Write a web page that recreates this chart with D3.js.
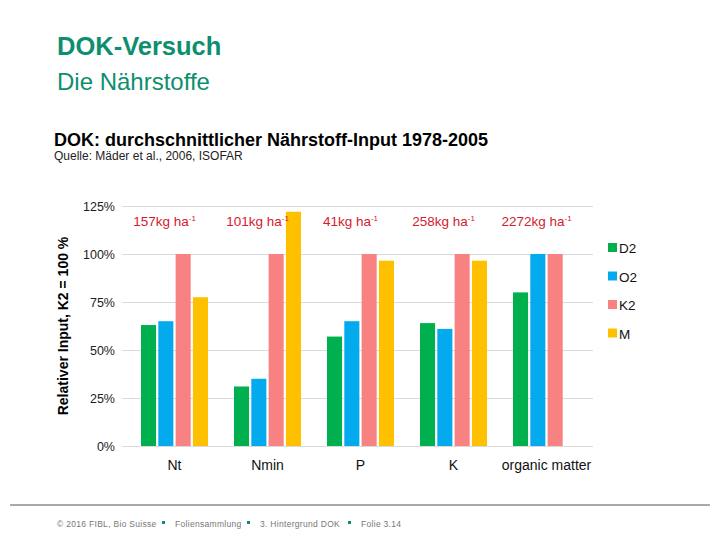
<!DOCTYPE html>
<html>
<head>
<meta charset="utf-8">
<script src="https://cdn.jsdelivr.net/npm/d3@7"></script>
<style>
  body { margin: 0; background: #fff; }
  svg { font-family: "Liberation Sans", Arial, sans-serif; }
</style>
</head>
<body>
<div id="graph"></div>
<script>
const categories = ["Nt", "Nmin", "P", "K", "organic matter"];
const seriesNames = ["D2", "O2", "K2", "M"];
const d2Values = [63, 31, 57, 64, 80];
const o2Values = [65, 35, 65, 61, 100];
const k2Values = [100, 100, 100, 100, 100];
const mValues = [77.5, 122, 96.5, 96.5, null];
const amountLabels = ["157kg ha", "101kg ha", "41kg ha", "258kg ha", "2272kg ha"];
const yTicks = [0, 25, 50, 75, 100, 125];
const colors = ["#00b04f", "#03aaee", "#f88282", "#ffc000"];

const width = 720, height = 540;
const plot = {left: 122, right: 593, top: 206, bottom: 446};

const svg = d3.select("#graph").append("svg")
    .attr("width", width)
    .attr("height", height);

// slide header
svg.append("text")
    .attr("x", 57).attr("y", 55)
    .attr("font-size", 25.5).attr("font-weight", "bold")
    .attr("fill", "#0d8f6f")
    .text("DOK-Versuch");
svg.append("text")
    .attr("x", 57).attr("y", 90)
    .attr("font-size", 24)
    .attr("fill", "#0d8f6f")
    .text("Die Nährstoffe");

// chart title
svg.append("text")
    .attr("x", 54).attr("y", 146)
    .attr("font-size", 18).attr("font-weight", "bold")
    .attr("fill", "#000")
    .text("DOK: durchschnittlicher Nährstoff-Input 1978-2005");
svg.append("text")
    .attr("x", 54).attr("y", 160)
    .attr("font-size", 12)
    .attr("fill", "#222")
    .text("Quelle: Mäder et al., 2006, ISOFAR");

const xScale = d3.scaleBand()
    .domain(categories)
    .range([plot.left + 6, plot.right])
    .paddingInner(0)
    .paddingOuter(0);
const xInner = d3.scaleBand()
    .domain(seriesNames)
    .range([0, 67])
    .paddingInner(0.13);
const yScale = d3.scaleLinear()
    .domain([0, 125])
    .range([plot.bottom, plot.top]);

// gridlines + y labels
const yAxis = d3.axisLeft(yScale)
    .tickValues(yTicks)
    .tickSize(-(plot.right - plot.left))
    .tickPadding(7)
    .tickFormat(d => d + "%");
const yg = svg.append("g")
    .attr("transform", "translate(" + plot.left + ",0)")
    .call(yAxis);
yg.select(".domain").remove();
yg.selectAll(".tick line").attr("stroke", "#dadada").attr("stroke-width", 1);
yg.selectAll(".tick text").attr("font-size", 12.5).attr("fill", "#222")
    .attr("font-family", "Liberation Sans, Arial, sans-serif");

// bars
const table = categories.map((c, i) => ({
    category: c,
    values: [d2Values[i], o2Values[i], k2Values[i], mValues[i]]
}));
const groups = svg.append("g").selectAll("g")
    .data(table)
    .join("g")
    .attr("transform", d => "translate(" + (xScale(d.category) + (xScale.bandwidth() - 67) / 2) + ",0)");
groups.selectAll("rect")
    .data(d => d.values.map((v, j) => ({series: seriesNames[j], value: v, color: colors[j]})).filter(e => e.value !== null))
    .join("rect")
    .attr("x", d => xInner(d.series))
    .attr("width", xInner.bandwidth())
    .attr("y", d => yScale(d.value))
    .attr("height", d => plot.bottom - yScale(d.value))
    .attr("fill", d => d.color);

// x labels
const xAxis = d3.axisBottom(xScale).tickSize(0).tickPadding(14);
const xg = svg.append("g")
    .attr("transform", "translate(0," + plot.bottom + ")")
    .call(xAxis);
xg.select(".domain").remove();
xg.selectAll(".tick text").attr("font-size", 14).attr("fill", "#111")
    .attr("font-family", "Liberation Sans, Arial, sans-serif");

// amount labels
const amt = svg.append("g").selectAll("text")
    .data(categories)
    .join("text")
    .attr("x", (d, i) => xScale(d) + xScale.bandwidth() / 2 - 10)
    .attr("y", 226)
    .attr("text-anchor", "middle")
    .attr("font-size", 13.5)
    .attr("fill", "#d3202e");
amt.text((d, i) => amountLabels[i])
    .append("tspan")
    .attr("dy", -5)
    .attr("font-size", 8)
    .text("-1");

// y title
svg.append("text")
    .attr("transform", "translate(68,326) rotate(-90)")
    .attr("text-anchor", "middle")
    .attr("font-size", 14).attr("font-weight", "bold")
    .attr("fill", "#000")
    .text("Relativer Input, K2 = 100 %");

// legend
const legend = svg.append("g").selectAll("g")
    .data(seriesNames)
    .join("g")
    .attr("transform", (d, i) => "translate(608," + (243 + i * 28.5) + ")");
legend.append("rect")
    .attr("width", 9).attr("height", 9)
    .attr("fill", (d, i) => colors[i]);
legend.append("text")
    .attr("x", 11).attr("y", 10)
    .attr("font-size", 13.5).attr("fill", "#111")
    .text(d => d);

// footer
svg.append("line")
    .attr("x1", 10).attr("x2", 710)
    .attr("y1", 505).attr("y2", 505)
    .attr("stroke", "#555").attr("stroke-width", 1);
const footerItems = ["© 2016 FIBL, Bio Suisse", "Foliensammlung", "3. Hintergrund DOK", "Folie 3.14"];
const footerX = [57, 175, 260, 361];
footerItems.forEach((t, i) => {
    svg.append("text")
        .attr("x", footerX[i]).attr("y", 527)
        .attr("font-size", 8.5).attr("fill", "#777")
        .attr("letter-spacing", 0.3)
        .text(t);
    if (i < footerItems.length - 1) {
        svg.append("rect")
            .attr("x", footerX[i + 1] - 13).attr("y", 521)
            .attr("width", 3).attr("height", 3)
            .attr("fill", "#0d8f6f");
    }
});
</script>
</body>
</html>
